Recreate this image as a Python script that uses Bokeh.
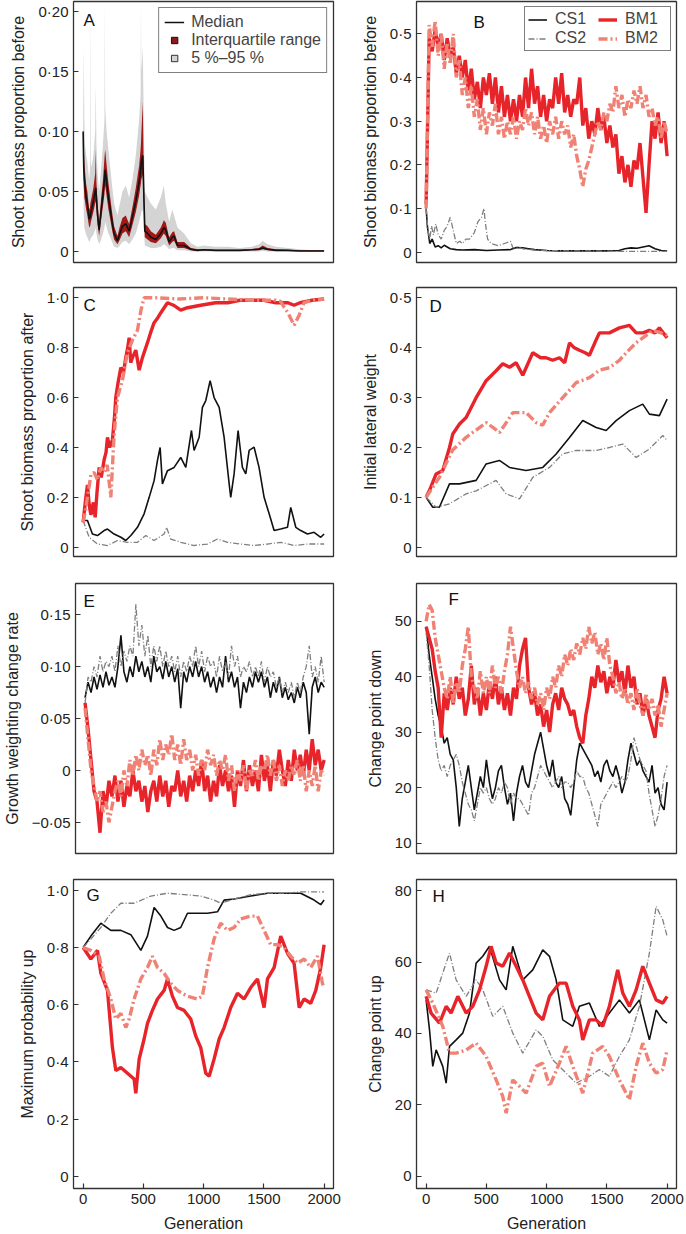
from bokeh.plotting import figure
from bokeh.layouts import column, row
from bokeh.models import Range1d, FixedTicker, Label, Legend, LegendItem
from bokeh.embed import file_html
from bokeh.resources import INLINE

FONT = "Liberation Sans"
RED = "#e8242b"
SALMON = "#f08275"
GRAY = "#7f7f7f"
BLACK = "#111111"

# ---------------- data ----------------
x_ticks = [0, 500, 1000, 1500, 2000]
x_tick_labels = ["0", "500", "1000", "1500", "2000"]
gen25 = list(range(0, 2001, 25))

# Panel A
gen_a = [0, 5, 10, 15, 25, 35, 50, 57, 60, 63,
         70, 85, 100, 105, 110, 120, 133, 150, 165, 177,
         180, 183, 195, 210, 225, 240, 257, 285, 305, 326,
         354, 382, 409, 437, 465, 477, 480, 483, 495, 503,
         512, 535, 562, 603, 645, 670, 686, 714, 740, 755,
         783, 838, 894, 950, 1000, 1100, 1200, 1300, 1400, 1460,
         1490, 1530, 1600, 1700, 1800, 1900, 2000]
a_med = [0.10, 0.07, 0.06, 0.055, 0.045, 0.04, 0.027, 0.028, 0.03, 0.032,
         0.035, 0.042, 0.05, 0.053, 0.045, 0.03, 0.018, 0.035, 0.048, 0.06,
         0.065, 0.068, 0.058, 0.045, 0.035, 0.025, 0.015, 0.009, 0.015, 0.021,
         0.023, 0.017, 0.029, 0.042, 0.058, 0.068, 0.07, 0.075, 0.08, 0.05,
         0.017, 0.015, 0.012, 0.01, 0.015, 0.02, 0.018, 0.008, 0.012, 0.013,
         0.005, 0.005, 0.002, 0.001, 0.0015, 0.001, 0.001, 0.001, 0.0015, 0.002,
         0.003, 0.002, 0.001, 0.001, 0.0005, 0.0005, 0.0005]
a_q25 = [0.095, 0.055, 0.045, 0.042, 0.035, 0.03, 0.02, 0.021, 0.022, 0.024,
         0.027, 0.033, 0.04, 0.042, 0.035, 0.022, 0.013, 0.027, 0.038, 0.048,
         0.052, 0.055, 0.046, 0.035, 0.027, 0.018, 0.01, 0.006, 0.01, 0.015,
         0.017, 0.012, 0.022, 0.033, 0.047, 0.055, 0.057, 0.06, 0.064, 0.038,
         0.012, 0.01, 0.008, 0.007, 0.011, 0.015, 0.013, 0.005, 0.008, 0.009,
         0.003, 0.003, 0.001, 0.0005, 0.001, 0.0005, 0.0005, 0.0005, 0.001, 0.001,
         0.002, 0.001, 0.0005, 0.0005, 0.0002, 0.0002, 0.0002]
a_q75 = [0.102, 0.09, 0.075, 0.068, 0.056, 0.05, 0.035, 0.037, 0.04, 0.042,
         0.045, 0.053, 0.065, 0.085, 0.058, 0.04, 0.025, 0.045, 0.06, 0.078,
         0.082, 0.085, 0.072, 0.057, 0.045, 0.033, 0.021, 0.013, 0.021, 0.028,
         0.03, 0.023, 0.037, 0.053, 0.072, 0.085, 0.09, 0.098, 0.125, 0.065,
         0.023, 0.021, 0.017, 0.014, 0.02, 0.026, 0.024, 0.012, 0.016, 0.017,
         0.008, 0.008, 0.003, 0.002, 0.002, 0.0015, 0.0015, 0.0015, 0.002, 0.003,
         0.005, 0.003, 0.002, 0.0015, 0.001, 0.001, 0.001]
a_p05 = [0.09, 0.03, 0.02, 0.018, 0.014, 0.012, 0.008, 0.009, 0.01, 0.011,
         0.012, 0.014, 0.018, 0.02, 0.015, 0.01, 0.006, 0.01, 0.015, 0.02,
         0.022, 0.025, 0.02, 0.015, 0.012, 0.008, 0.004, 0.003, 0.005, 0.008,
         0.009, 0.006, 0.01, 0.015, 0.025, 0.03, 0.03, 0.033, 0.035, 0.02,
         0.005, 0.004, 0.003, 0.003, 0.004, 0.006, 0.005, 0.002, 0.003, 0.003,
         0.001, 0.001, 0.0, 0.0, 0.0, 0.0, 0.0, 0.0, 0.0, 0.0,
         0.0005, 0.0, 0.0, 0.0, 0.0, 0.0, 0.0]
a_p95 = [0.105, 0.17, 0.11, 0.09, 0.08, 0.075, 0.06, 0.07, 0.21, 0.075,
         0.07, 0.08, 0.10, 0.14, 0.09, 0.065, 0.05, 0.07, 0.09, 0.11,
         0.21, 0.12, 0.10, 0.085, 0.07, 0.055, 0.04, 0.03, 0.04, 0.05,
         0.055, 0.045, 0.06, 0.08, 0.11, 0.13, 0.21, 0.15, 0.17, 0.11,
         0.05, 0.045, 0.04, 0.035, 0.045, 0.055, 0.04, 0.025, 0.035, 0.03,
         0.02, 0.015, 0.007, 0.004, 0.005, 0.004, 0.004, 0.003, 0.004, 0.006,
         0.009, 0.006, 0.004, 0.003, 0.002, 0.001, 0.001]

# Panel B
b_bm1 = [0.11, 0.49, 0.46, 0.51, 0.47, 0.50, 0.44, 0.49, 0.45, 0.47,
         0.41, 0.45, 0.40, 0.44, 0.37, 0.42, 0.35, 0.39, 0.33, 0.40,
         0.36, 0.41, 0.34, 0.40, 0.32, 0.38, 0.31, 0.36, 0.30, 0.35,
         0.30, 0.36, 0.31, 0.40, 0.33, 0.42, 0.34, 0.38, 0.31, 0.36,
         0.30, 0.35, 0.33, 0.40, 0.34, 0.41, 0.32, 0.36, 0.31, 0.35,
         0.34, 0.40, 0.29, 0.33, 0.26, 0.30, 0.27, 0.33, 0.28, 0.31,
         0.25, 0.29, 0.24, 0.27, 0.18, 0.22, 0.16, 0.20, 0.15, 0.21,
         0.19, 0.25, 0.17, 0.09, 0.20, 0.30, 0.26, 0.32, 0.25, 0.30,
         0.22]
b_bm2 = [0.10, 0.52, 0.47, 0.53, 0.45, 0.50, 0.42, 0.48, 0.43, 0.50,
         0.40, 0.44, 0.36, 0.40, 0.33, 0.38, 0.31, 0.35, 0.28, 0.33,
         0.27, 0.32, 0.29, 0.34, 0.27, 0.31, 0.26, 0.30, 0.27, 0.31,
         0.26, 0.30, 0.28, 0.33, 0.29, 0.32, 0.27, 0.31, 0.26, 0.29,
         0.25, 0.30, 0.27, 0.31, 0.26, 0.30, 0.27, 0.29, 0.24, 0.27,
         0.22, 0.19, 0.15, 0.19, 0.21, 0.24, 0.27, 0.30, 0.28, 0.32,
         0.30, 0.34, 0.32, 0.38, 0.33, 0.36, 0.31, 0.35, 0.33, 0.37,
         0.34, 0.38, 0.33, 0.36, 0.31, 0.33, 0.29, 0.31, 0.26, 0.30,
         0.27]
b_cs1_gen = [0, 10, 20, 30, 50, 75, 100, 125, 150, 200, 250, 300, 400, 500, 600, 700, 750, 800,
             850, 900, 1000, 1100, 1200, 1300, 1400, 1500, 1600, 1650, 1700, 1750, 1800, 1850,
             1900, 1950, 2000]
b_cs1 = [0.10, 0.06, 0.04, 0.02, 0.03, 0.012, 0.015, 0.01, 0.016, 0.008, 0.006, 0.005, 0.006,
         0.004, 0.005, 0.006, 0.011, 0.01, 0.008, 0.006, 0.004, 0.003, 0.003, 0.003, 0.003,
         0.003, 0.004, 0.008, 0.01, 0.009, 0.012, 0.015, 0.008, 0.004, 0.003]
b_cs2_gen = [0, 15, 30, 45, 60, 80, 100, 125, 150, 175, 200, 225, 250, 280, 300, 330, 360, 400,
             430, 460, 480, 490, 510, 540, 600, 650, 700, 720, 760, 800, 900, 1000, 1200, 1400,
             1600, 1800, 2000]
b_cs2 = [0.10, 0.05, 0.03, 0.06, 0.04, 0.065, 0.04, 0.03, 0.05, 0.06, 0.08, 0.05, 0.02, 0.025,
         0.02, 0.03, 0.03, 0.045, 0.07, 0.08, 0.10, 0.07, 0.03, 0.02, 0.015, 0.02, 0.025, 0.01,
         0.012, 0.008, 0.005, 0.004, 0.003, 0.003, 0.002, 0.002, 0.002]

# Panel C
c_bm1_gen = [0, 20, 36, 50, 64, 85, 100, 115, 133, 150, 174, 190, 202, 220, 243, 260, 271, 290,
             313, 335, 354, 370, 382, 395, 409, 437, 465, 492, 534, 560, 589, 620, 645, 700, 750,
             810, 866, 976, 1100, 1200, 1300, 1400, 1500, 1600, 1700, 1750, 1800, 1900, 2000]
c_bm1 = [0.10, 0.19, 0.25, 0.17, 0.13, 0.18, 0.12, 0.22, 0.32, 0.28, 0.35, 0.38, 0.44, 0.40,
         0.43, 0.52, 0.60, 0.66, 0.72, 0.70, 0.76, 0.80, 0.84, 0.74, 0.76, 0.79, 0.71, 0.76,
         0.82, 0.86, 0.90, 0.92, 0.94, 0.98, 0.97, 0.95, 0.96, 0.97, 0.98, 0.98, 0.99, 0.99,
         0.99, 0.98, 0.98, 0.97, 0.98, 0.99, 0.995]
c_bm2_gen = [0, 20, 36, 64, 91, 119, 147, 174, 200, 230, 257, 285, 326, 368, 409, 451, 480, 506,
             600, 800, 1000, 1200, 1400, 1600, 1640, 1670, 1700, 1751, 1793, 1834, 1900, 2000]
c_bm2 = [0.10, 0.15, 0.20, 0.29, 0.30, 0.27, 0.32, 0.30, 0.33, 0.20, 0.45, 0.60, 0.67, 0.78,
         0.83, 0.87, 0.95, 1.0, 1.0, 0.995, 1.0, 0.995, 0.99, 0.99, 0.985, 0.96, 0.94, 0.89,
         0.93, 0.98, 0.99, 0.995]
c_cs1_gen = [0, 36, 77, 119, 174, 202, 257, 313, 354, 396, 451, 506, 548, 589, 617, 639, 658,
             700, 755, 810, 852, 899, 921, 963, 990, 1018, 1054, 1087, 1129, 1170, 1212, 1225,
             1253, 1286, 1322, 1350, 1378, 1419, 1460, 1502, 1544, 1585, 1640, 1696, 1723, 1765,
             1806, 1862, 1917, 1972, 2000]
c_cs1 = [0.107, 0.107, 0.053, 0.047, 0.067, 0.073, 0.053, 0.04, 0.027, 0.047, 0.08, 0.134,
         0.20, 0.267, 0.348, 0.40, 0.254, 0.307, 0.32, 0.36, 0.32, 0.468, 0.388, 0.441, 0.561,
         0.588, 0.668, 0.60, 0.561, 0.441, 0.254, 0.20, 0.294, 0.468, 0.32, 0.294, 0.388,
         0.401, 0.32, 0.20, 0.134, 0.067, 0.073, 0.08, 0.16, 0.08, 0.067, 0.053, 0.06, 0.04,
         0.053]
c_cs2_gen = [0, 50, 119, 202, 285, 368, 451, 520, 589, 672, 692, 727, 810, 921, 1032, 1115,
             1198, 1308, 1419, 1530, 1640, 1751, 1862, 1972, 2000]
c_cs2 = [0.107, 0.04, 0.013, 0.007, 0.027, 0.02, 0.02, 0.047, 0.027, 0.053, 0.08, 0.033,
         0.02, 0.007, 0.013, 0.033, 0.02, 0.013, 0.007, 0.013, 0.02, 0.007, 0.013, 0.013, 0.013]

# Panel D
d_bm1_gen = [0, 28, 83, 138, 194, 221, 277, 332, 415, 498, 581, 636, 692, 747, 802, 885, 950,
             995, 1050, 1106, 1150, 1190, 1230, 1272, 1320, 1355, 1400, 1438, 1521, 1604, 1687,
             1743, 1800, 1853, 1900, 1936, 2000]
d_bm1 = [0.10, 0.114, 0.147, 0.154, 0.20, 0.227, 0.247, 0.26, 0.30, 0.334, 0.354, 0.368,
         0.361, 0.37, 0.345, 0.39, 0.38, 0.38, 0.375, 0.38, 0.37, 0.41, 0.40, 0.395, 0.39,
         0.385, 0.41, 0.43, 0.43, 0.44, 0.445, 0.43, 0.43, 0.435, 0.43, 0.44, 0.42]
d_bm2_gen = [0, 110, 220, 330, 415, 500, 610, 720, 830, 913, 968, 1024, 1134, 1245, 1355, 1438,
             1521, 1604, 1660, 1743, 1798, 1881, 1950, 2000]
d_bm2 = [0.10, 0.14, 0.195, 0.22, 0.235, 0.25, 0.23, 0.27, 0.27, 0.25, 0.245, 0.27, 0.30,
         0.33, 0.34, 0.355, 0.36, 0.375, 0.39, 0.41, 0.42, 0.435, 0.43, 0.425]
d_cs1_gen = [0, 55, 110, 194, 277, 415, 498, 608, 692, 830, 968, 1079, 1190, 1300, 1411, 1494,
             1577, 1687, 1798, 1853, 1936, 2000]
d_cs1 = [0.10, 0.08, 0.08, 0.127, 0.127, 0.134, 0.167, 0.174, 0.16, 0.154, 0.16, 0.187, 0.22,
         0.254, 0.24, 0.234, 0.254, 0.274, 0.287, 0.267, 0.264, 0.297]
d_cs2_gen = [0, 83, 194, 332, 415, 581, 664, 775, 885, 1024, 1134, 1245, 1411, 1521, 1632, 1743,
             1853, 1964, 2000]
d_cs2 = [0.10, 0.08, 0.087, 0.107, 0.113, 0.134, 0.107, 0.097, 0.14, 0.16, 0.187, 0.194,
         0.194, 0.20, 0.207, 0.18, 0.197, 0.224, 0.214]

# Panel E
e_cs1 = [0.07, 0.085, 0.075, 0.09, 0.078, 0.092, 0.08, 0.095, 0.082, 0.09,
         0.08, 0.10, 0.13, 0.095, 0.085, 0.10, 0.09, 0.11, 0.095, 0.105,
         0.09, 0.10, 0.085, 0.11, 0.095, 0.10, 0.088, 0.105, 0.09, 0.10,
         0.085, 0.098, 0.06, 0.095, 0.085, 0.10, 0.09, 0.105, 0.09, 0.10,
         0.085, 0.095, 0.08, 0.09, 0.075, 0.09, 0.08, 0.11, 0.085, 0.095,
         0.08, 0.09, 0.06, 0.085, 0.075, 0.09, 0.08, 0.095, 0.085, 0.095,
         0.08, 0.09, 0.07, 0.085, 0.075, 0.09, 0.07, 0.08, 0.068, 0.075,
         0.065, 0.08, 0.07, 0.085, 0.075, 0.035, 0.08, 0.09, 0.075, 0.085,
         0.08]
e_cs2 = [0.065, 0.09, 0.085, 0.10, 0.09, 0.11, 0.095, 0.105, 0.10, 0.11,
         0.095, 0.12, 0.10, 0.115, 0.105, 0.12, 0.11, 0.16, 0.12, 0.14,
         0.11, 0.13, 0.10, 0.12, 0.105, 0.12, 0.10, 0.115, 0.10, 0.11,
         0.095, 0.11, 0.09, 0.105, 0.095, 0.11, 0.10, 0.12, 0.10, 0.115,
         0.095, 0.11, 0.10, 0.105, 0.09, 0.11, 0.095, 0.105, 0.09, 0.12,
         0.10, 0.11, 0.09, 0.10, 0.095, 0.105, 0.09, 0.10, 0.09, 0.105,
         0.085, 0.10, 0.09, 0.095, 0.08, 0.09, 0.075, 0.085, 0.075, 0.085,
         0.07, 0.085, 0.075, 0.09, 0.10, 0.12, 0.09, 0.10, 0.085, 0.11,
         0.085]
e_bm1 = [0.065, 0.04, 0.01, -0.02, -0.03, -0.06, -0.02, -0.035, -0.01, -0.025,
         -0.005, -0.03, -0.01, -0.035, -0.015, -0.025, 0.0, -0.02, -0.01, -0.03,
         -0.015, -0.04, -0.02, -0.01, -0.03, -0.005, -0.025, -0.01, -0.035, -0.015,
         -0.02, 0.0, -0.025, -0.01, -0.03, -0.005, -0.02, 0.0, -0.015, 0.01,
         -0.02, -0.005, -0.03, -0.01, -0.025, 0.005, -0.015, 0.0, -0.02, -0.005,
         -0.035, 0.0, -0.015, 0.01, -0.02, 0.005, -0.015, 0.0, -0.02, 0.015,
         -0.01, 0.005, -0.02, 0.01, -0.005, 0.02, 0.0, -0.015, 0.01, -0.01,
         0.02, 0.0, 0.015, -0.005, 0.02, 0.0, 0.03, 0.005, 0.02, 0.0,
         0.01]
e_bm2 = [0.06, 0.03, 0.0, -0.015, -0.03, -0.02, -0.04, -0.03, -0.05, -0.035,
         -0.02, -0.01, -0.025, 0.0, -0.015, 0.01, -0.005, 0.015, 0.0, 0.02,
         0.005, 0.015, -0.005, 0.02, 0.005, 0.03, 0.01, 0.025, 0.015, 0.035,
         0.01, 0.025, 0.005, 0.03, 0.01, 0.02, 0.0, 0.015, -0.005, 0.01,
         0.0, 0.02, 0.005, 0.015, -0.005, 0.01, 0.0, 0.015, -0.01, 0.005,
         -0.02, 0.0, -0.01, 0.005, -0.02, 0.0, -0.005, 0.01, -0.01, 0.005,
         0.0, 0.015, -0.005, 0.01, -0.01, 0.005, -0.015, 0.0, -0.01, 0.005,
         -0.005, 0.01, -0.01, 0.005, -0.02, 0.0, -0.015, 0.005, -0.02, 0.0,
         -0.005]

# Panel F
f_bm1 = [49, 47, 45, 41, 38, 29, 37, 34, 38, 35,
         40, 36, 38, 33, 36, 42, 35, 38, 33, 37,
         34, 39, 36, 40, 35, 38, 34, 37, 33, 38,
         36, 42, 45, 47, 38, 35, 37, 33, 35, 31,
         34, 30, 35, 37, 34, 38, 36, 35, 33, 34,
         31, 29, 28, 33, 36, 40, 38, 42, 39, 41,
         37, 40, 38, 43, 39, 41, 37, 42, 38, 40,
         35, 37, 33, 36, 33, 31, 29, 34, 36, 40,
         37]
f_bm2 = [50, 53, 52, 47, 44, 41, 38, 36, 40, 35,
         39, 37, 42, 45, 49, 40, 38, 36, 41, 37,
         40, 37, 42, 38, 40, 37, 41, 44, 49, 45,
         41, 38, 40, 37, 39, 36, 38, 35, 37, 34,
         38, 36, 40, 38, 42, 40, 44, 42, 45, 43,
         46, 44, 47, 45, 49, 46, 48, 44, 46, 43,
         47, 42, 40, 37, 39, 36, 38, 35, 37, 34,
         38, 35, 33, 37, 34, 36, 33, 35, 31, 34,
         37]
f_cs1 = [49, 44, 40, 36, 33, 31, 28, 29, 26, 25,
         20, 13, 18, 21, 24, 20, 16, 19, 22, 20,
         25, 21, 18, 20, 23, 24, 20, 17, 19, 14,
         19, 22, 24, 21, 20, 23, 26, 28, 30, 27,
         24, 22, 25, 21, 20, 22, 18, 17, 15, 20,
         25, 28, 27, 26, 25, 24, 22, 23, 21, 24,
         25, 23, 22, 24, 22, 19, 21, 25, 28, 26,
         24, 25, 23, 22, 21, 24, 19, 20, 17, 16,
         21]
f_cs2 = [48, 42, 34, 29, 25, 23, 24, 22, 24, 25,
         26, 24, 21, 19, 17, 16, 14, 17, 20, 19,
         20, 18, 17, 18, 20, 19, 21, 20, 17, 19,
         18, 18, 17, 16, 15, 19, 20, 22, 24, 23,
         22, 21, 20, 21, 22, 20, 21, 21, 20, 21,
         23, 22, 22, 20, 19, 17, 15, 13, 17, 18,
         19, 20, 21, 20, 21, 22, 21, 22, 25, 29,
         27, 25, 24, 23, 19, 16, 13, 15, 18, 22,
         24]

# Panel G
g_bm1_gen = [0, 64, 119, 147, 202, 243, 271, 313, 368, 423, 437, 465, 506, 534, 575, 617, 672,
             700, 741, 783, 838, 893, 935, 976, 1018, 1046, 1087, 1129, 1170, 1225, 1281, 1336,
             1391, 1447, 1502, 1530, 1585, 1640, 1696, 1751, 1793, 1834, 1889, 1931, 1972, 2000]
g_bm1 = [0.80, 0.76, 0.79, 0.71, 0.65, 0.45, 0.37, 0.38, 0.36, 0.34, 0.29, 0.41, 0.48, 0.535,
         0.58, 0.62, 0.65, 0.69, 0.63, 0.59, 0.58, 0.55, 0.49, 0.45, 0.36, 0.35, 0.41, 0.48,
         0.52, 0.59, 0.64, 0.62, 0.66, 0.69, 0.59, 0.69, 0.73, 0.84, 0.78, 0.745, 0.59, 0.62,
         0.605, 0.65, 0.73, 0.81]
g_bm2_gen = [0, 64, 133, 174, 230, 271, 313, 354, 382, 423, 479, 534, 575, 617, 672, 727, 783,
             866, 949, 990, 1032, 1087, 1142, 1198, 1253, 1308, 1391, 1447, 1502, 1557, 1613,
             1668, 1723, 1779, 1834, 1889, 1945, 1986, 2000]
g_bm2 = [0.80, 0.79, 0.77, 0.69, 0.62, 0.55, 0.57, 0.52, 0.55, 0.62, 0.69, 0.73, 0.77, 0.73,
         0.71, 0.675, 0.65, 0.63, 0.62, 0.63, 0.73, 0.83, 0.885, 0.86, 0.87, 0.90, 0.91, 0.91,
         0.86, 0.81, 0.81, 0.80, 0.77, 0.745, 0.76, 0.73, 0.77, 0.675, 0.66]
g_cs1_gen = [0, 64, 147, 230, 313, 396, 479, 534, 589, 645, 700, 755, 810, 866, 949, 1032, 1115,
             1170, 1253, 1391, 1530, 1668, 1806, 1917, 1972, 2000]
g_cs1 = [0.80, 0.84, 0.885, 0.86, 0.86, 0.845, 0.79, 0.84, 0.94, 0.91, 0.87, 0.86, 0.87, 0.92,
         0.92, 0.92, 0.925, 0.966, 0.97, 0.98, 0.99, 0.99, 0.99, 0.966, 0.95, 0.966]
g_cs2_gen = [0, 64, 147, 230, 313, 423, 562, 700, 838, 976, 1087, 1142, 1253, 1391, 1530, 1668,
             1806, 2000]
g_cs2 = [0.80, 0.83, 0.87, 0.92, 0.955, 0.955, 0.98, 0.99, 0.985, 0.98, 0.966, 0.955, 0.97,
         0.985, 0.99, 0.99, 0.995, 0.995]

# Panel H
h_bm1_gen = [0, 41, 111, 166, 207, 263, 332, 387, 443, 498, 539, 581, 636, 692, 747, 802, 857,
             913, 968, 1024, 1106, 1162, 1217, 1272, 1300, 1355, 1411, 1466, 1521, 1590, 1632,
             1687, 1743, 1798, 1853, 1909, 1964, 2000]
h_bm1 = [50.4, 45.7, 42.9, 47.6, 45.7, 50.4, 45.7, 47.6, 52.2, 58.8, 64.4, 59.7, 58.8, 62.5,
         58.8, 55, 50.4, 45.7, 43.8, 50.4, 54.1, 54.1, 47.6, 43.8, 38.2, 43.8, 43.8, 42.0, 47.6,
         57.8, 51.3, 47.6, 52.2, 58.8, 54.1, 49.4, 48.5, 50.4]
h_bm2_gen = [0, 55, 138, 194, 249, 332, 415, 498, 581, 636, 664, 719, 775, 830, 913, 968, 1024,
             1106, 1162, 1217, 1300, 1383, 1466, 1521, 1604, 1687, 1743, 1798, 1853, 1909, 1964,
             2000]
h_bm2 = [52.2, 48.5, 42, 34.5, 34.5, 35.4, 37.3, 33.6, 27, 22.4, 17.7, 27, 25.2, 23.3, 30.8,
         31.7, 25.2, 31.7, 36.4, 30.8, 23.3, 34.5, 36.4, 33.6, 27, 21.5, 30.8, 37.3, 31.7, 28.9,
         29.9, 35.4]
h_cs1_gen = [0, 28, 55, 83, 138, 166, 194, 249, 304, 360, 415, 470, 526, 609, 664, 719, 802, 885,
             968, 1024, 1079, 1134, 1217, 1272, 1355, 1438, 1521, 1604, 1687, 1770, 1853, 1909,
             1964, 2000]
h_cs1 = [49.4, 41, 30.8, 35.4, 30.8, 26.1, 36.4, 38.2, 40.1, 45.7, 59.7, 61.6, 64.4, 55, 52.2,
         64.4, 55, 57.8, 63.4, 61.6, 55, 43.8, 42, 47.6, 48.5, 42, 45.7, 49.4, 45.7, 49.4, 38.2,
         46.6, 43.8, 42.9]
h_cs2_gen = [0, 83, 138, 194, 249, 332, 415, 470, 553, 636, 719, 802, 913, 968, 1051, 1162, 1245,
             1355, 1438, 1521, 1604, 1687, 1770, 1853, 1909, 1964, 2000]
h_cs2 = [52.2, 51.3, 56.9, 62.5, 55, 50.4, 55, 52.2, 44.8, 47.6, 40.1, 34.5, 41, 39.2, 32.6,
         28.9, 26.1, 28, 29.9, 28, 33.6, 38.2, 47.6, 62.5, 75.6, 71.8, 67.2]

# ---------------- layout ----------------
X_START, X_END = -80, 2078
ROWS = [(1, 12, 261), (13, 13, 269), (14, 13, 270), (13, 46, 309)]  # top border, bottom border, frame h


def style_axis(ax):
    ax.major_tick_in = 5
    ax.major_tick_out = 0
    ax.minor_tick_line_color = None
    ax.axis_line_color = None
    ax.major_tick_line_color = "#333333"
    ax.major_tick_line_width = 1.2
    ax.major_label_text_font = FONT
    ax.major_label_text_font_size = "15px"
    ax.major_label_text_color = "#222222"
    ax.axis_label_text_font = FONT
    ax.axis_label_text_font_size = "16px"
    ax.axis_label_text_font_style = "normal"
    ax.axis_label_text_color = "#222222"
    ax.major_label_standoff = 5


def make_panel(col, r, ylab, yr, yticks, ylabels, letter, ldx, ldy, bottom=False):
    T, B, H = ROWS[r]
    L, R = 73, 10
    p = figure(width=L + 260 + R, height=T + H + B, title=None, toolbar_location=None,
               output_backend="svg", x_range=Range1d(X_START, X_END), y_range=Range1d(*yr),
               min_border_left=L, min_border_right=R, min_border_top=T, min_border_bottom=B)
    p.xgrid.visible = False
    p.ygrid.visible = False
    p.outline_line_color = "#333333"
    p.outline_line_width = 1.3
    ya = p.yaxis[0]
    style_axis(ya)
    ya.ticker = FixedTicker(ticks=yticks)
    ya.major_label_overrides = {t: s for t, s in zip(yticks, ylabels)}
    ya.axis_label = ylab
    ya.axis_label_standoff = 8
    xa = p.xaxis[0]
    if bottom:
        style_axis(xa)
        xa.ticker = FixedTicker(ticks=x_ticks)
        xa.major_label_overrides = {t: s for t, s in zip(x_ticks, x_tick_labels)}
        xa.axis_label = "Generation"
        xa.axis_label_standoff = 8
        xa.major_label_standoff = 5
    else:
        xa.visible = False
    p.add_layout(Label(x=X_START, y=yr[1], x_offset=ldx, y_offset=-ldy, text=letter,
                       text_font=FONT, text_font_size="17px", text_baseline="top",
                       text_color="#111111"))
    return p


def four_lines(p, cs1x, cs1, cs2x, cs2, bm1x, bm1, bm2x, bm2):
    r1 = p.line(cs1x, cs1, line_color=BLACK, line_width=1.6)
    r2 = p.line(cs2x, cs2, line_color=GRAY, line_width=1.3, line_dash="6 2 1 2")
    r3 = p.line(bm1x, bm1, line_color=RED, line_width=3.4)
    r4 = p.line(bm2x, bm2, line_color=SALMON, line_width=3.4, line_dash="9 3 2 3")
    return r1, r2, r3, r4


# Panel A
pA = make_panel(0, 0, "Shoot biomass proportion before", (-0.0091, 0.2083),
                [0, 0.05, 0.10, 0.15, 0.20], ["0", "0·05", "0·10", "0·15", "0·20"], "A", 10, 9)
pA.varea(x=gen_a, y1=a_p05, y2=a_p95, fill_color="#d4d4d4")
pA.varea(x=gen_a, y1=a_q25, y2=a_q75, fill_color="#a01818")
rmed = pA.line(gen_a, a_med, line_color=BLACK, line_width=1.6)
nan = float("nan")
riqr = pA.scatter([nan], [nan], marker="square", size=8, fill_color="#8e1b1b", line_color="#111111")
rpct = pA.scatter([nan], [nan], marker="square", size=8, fill_color="#d4d4d4", line_color="#333333")
legA = Legend(items=[LegendItem(label="Median", renderers=[rmed]),
                     LegendItem(label="Interquartile range", renderers=[riqr]),
                     LegendItem(label="5 %–95 %", renderers=[rpct])],
              location="top_right", border_line_color="black", border_line_width=1.3,
              background_fill_color="white", background_fill_alpha=1.0,
              label_text_font=FONT, label_text_font_size="16px", label_height=16,
              glyph_height=16, glyph_width=20, label_standoff=7, spacing=0, padding=5, margin=6)
pA.add_layout(legA)

# Panel B
pB = make_panel(1, 0, "Shoot biomass proportion before", (-0.0235, 0.574),
                [0, 0.1, 0.2, 0.3, 0.4, 0.5], ["0", "0·1", "0·2", "0·3", "0·4", "0·5"], "B", 57, 11)
rb = four_lines(pB, b_cs1_gen, b_cs1, b_cs2_gen, b_cs2, gen25, b_bm1, gen25, b_bm2)
legB = Legend(items=[LegendItem(label="CS1", renderers=[rb[0]]),
                     LegendItem(label="CS2", renderers=[rb[1]]),
                     LegendItem(label="BM1", renderers=[rb[2]]),
                     LegendItem(label="BM2", renderers=[rb[3]])],
              location="top_right", orientation="vertical", nrows=2,
              border_line_color="black", border_line_width=1.3,
              background_fill_color="white", background_fill_alpha=1.0,
              label_text_font=FONT, label_text_font_size="16px", label_height=13, label_width=42,
              glyph_height=13, glyph_width=19, label_standoff=8, spacing=1, padding=3, margin=5)
pB.add_layout(legB)

# Panel C
pC = make_panel(0, 1, "Shoot biomass proportion after", (-0.037, 1.041),
                [0, 0.2, 0.4, 0.6, 0.8, 1.0], ["0", "0·2", "0·4", "0·6", "0·8", "1·0"], "C", 10, 8)
four_lines(pC, c_cs1_gen, c_cs1, c_cs2_gen, c_cs2, c_bm1_gen, c_bm1, c_bm2_gen, c_bm2)

# Panel D
pD = make_panel(1, 1, "Initial lateral weight", (-0.0187, 0.521),
                [0, 0.1, 0.2, 0.3, 0.4, 0.5], ["0", "0·1", "0·2", "0·3", "0·4", "0·5"], "D", 13, 9)
four_lines(pD, d_cs1_gen, d_cs1, d_cs2_gen, d_cs2, d_bm1_gen, d_bm1, d_bm2_gen, d_bm2)

# Panel E
pE = make_panel(0, 2, "Growth weighting change rate", (-0.080, 0.180),
                [-0.05, 0, 0.05, 0.10, 0.15], ["−0·05", "0", "0·05", "0·10", "0·15"], "E", 8, 8)
four_lines(pE, gen25, e_cs1, gen25, e_cs2, gen25, e_bm1, gen25, e_bm2)

# Panel F
pF = make_panel(1, 2, "Change point down", (8.12, 56.8),
                [10, 20, 30, 40, 50], ["10", "20", "30", "40", "50"], "F", 32, 6)
four_lines(pF, gen25, f_cs1, gen25, f_cs2, gen25, f_bm1, gen25, f_bm2)

# Panel G
pG = make_panel(0, 3, "Maximum probability up", (-0.043, 1.038),
                [0, 0.2, 0.4, 0.6, 0.8, 1.0], ["0", "0·2", "0·4", "0·6", "0·8", "1·0"], "G", 13, 6,
                bottom=True)
four_lines(pG, g_cs1_gen, g_cs1, g_cs2_gen, g_cs2, g_bm1_gen, g_bm1, g_bm2_gen, g_bm2)

# Panel H
pH = make_panel(1, 3, "Change point up", (-3.4, 83.1),
                [0, 20, 40, 60, 80], ["0", "20", "40", "60", "80"], "H", 16, 7, bottom=True)
four_lines(pH, h_cs1_gen, h_cs1, h_cs2_gen, h_cs2, h_bm1_gen, h_bm1, h_bm2_gen, h_bm2)

layout = column(row(pA, pB), row(pC, pD), row(pE, pF), row(pG, pH))
open("out.html", "w").write(file_html(layout, INLINE))
